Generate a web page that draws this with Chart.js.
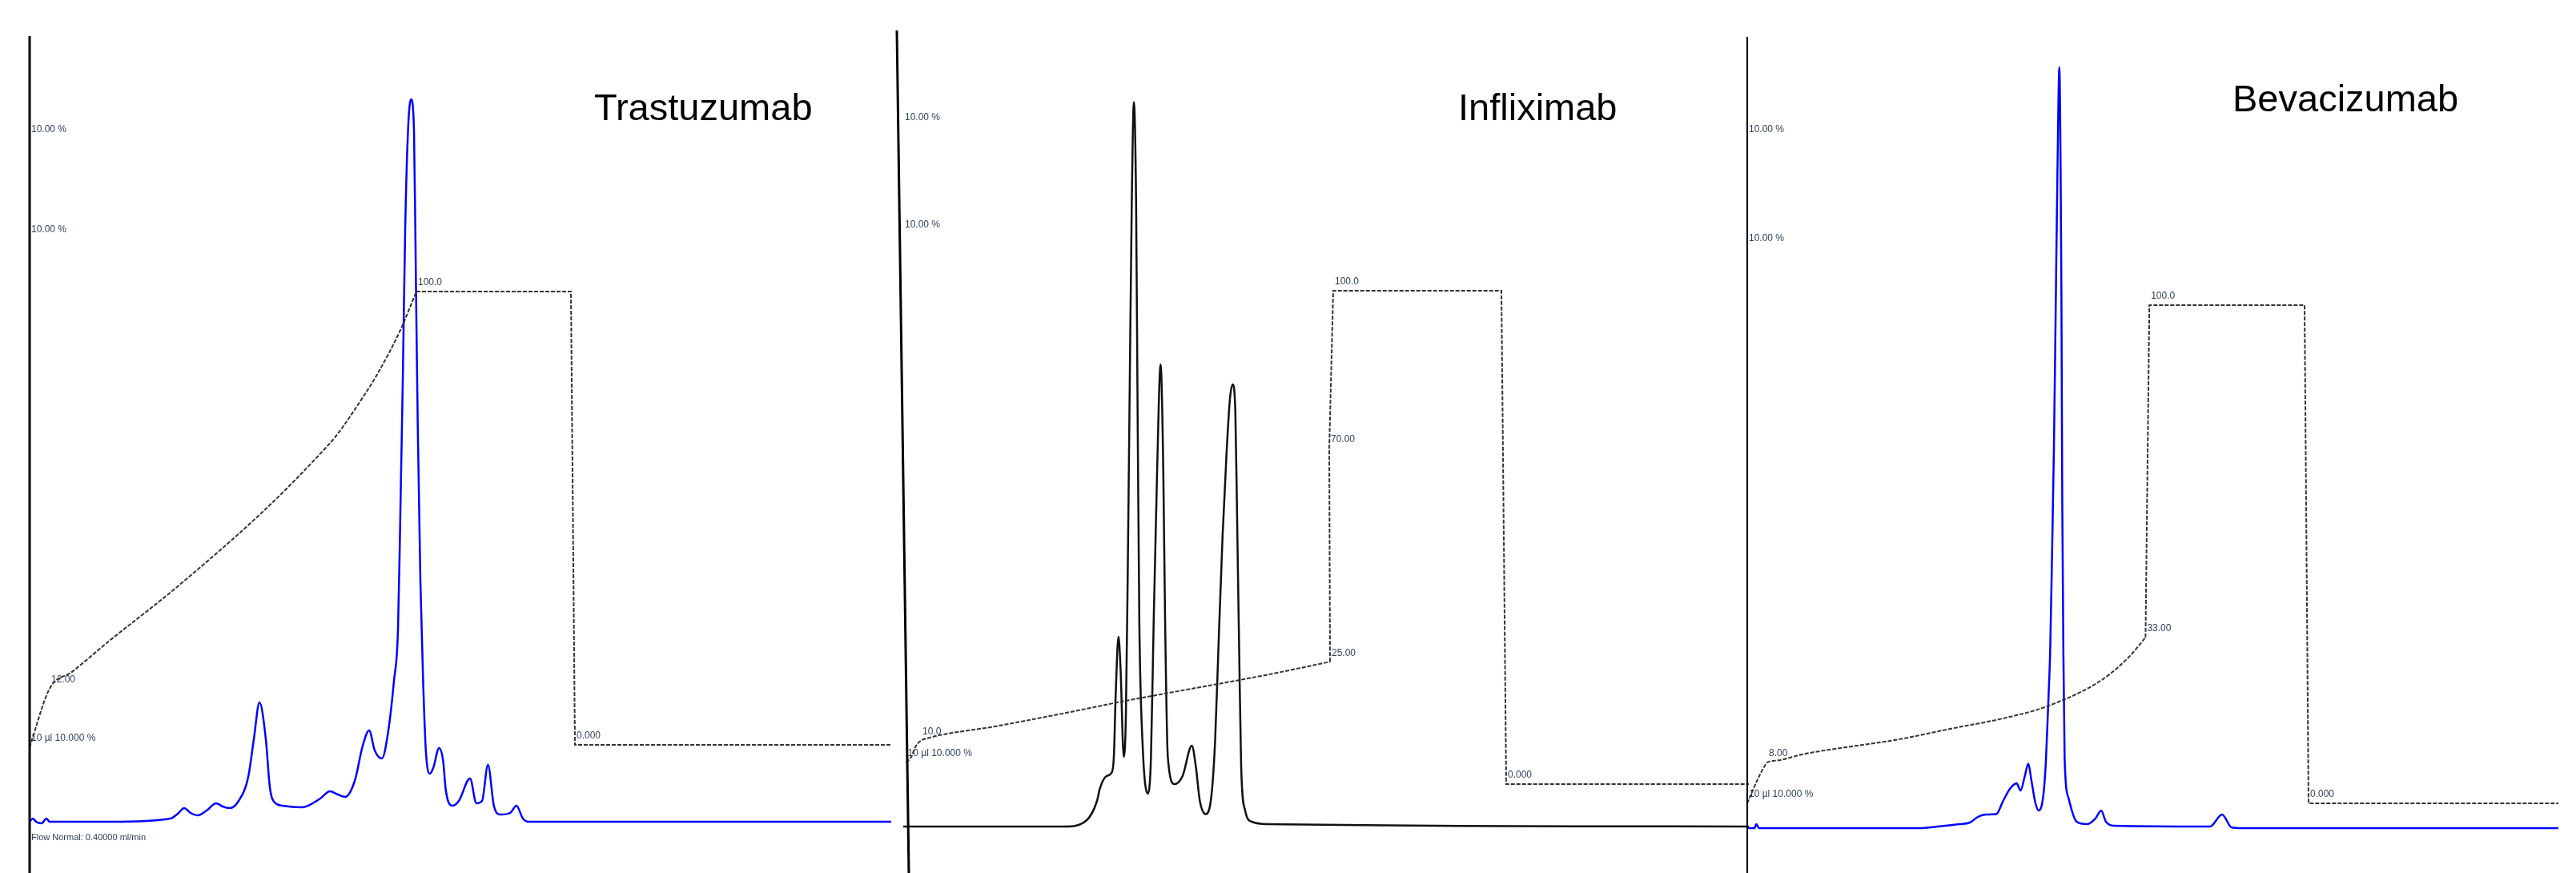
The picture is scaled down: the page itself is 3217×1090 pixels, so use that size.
<!DOCTYPE html>
<html>
<head>
<meta charset="utf-8">
<script src="https://cdn.jsdelivr.net/npm/chart.js@4.4.1/dist/chart.umd.min.js"></script>
<style>
html,body{margin:0;padding:0;background:#fff;width:3217px;height:1090px;overflow:hidden}
canvas{position:absolute;left:0;top:0}
</style>
</head>
<body>
<canvas id="c1" width="3217" height="1090"></canvas>
<canvas id="c2" width="3217" height="1090"></canvas>
<canvas id="c3" width="3217" height="1090"></canvas>
<script>
// ---------- Trastuzumab ----------
const trastuzumabTime = [0,0.2,0.4,0.75,1.05,1.25,5.15,8.8,9.25,9.65,10.05,10.5,11.05,11.65,12.05,12.5,13.05,13.65,14.0,14.35,14.75,15.0,15.3,15.8,17.0,18.15,18.75,19.25,19.7,20.3,20.8,21.2,21.55,22.0,22.4,22.75,23.0,23.13,23.3,23.45,23.63,23.82,24.0,24.12,24.24,24.4,24.57,24.74,24.99,25.2,25.57,25.82,25.99,26.4,26.8,27.5,27.9,28.25,28.62,28.99,29.4,30.0,30.4,30.8,31.15,53.8];
const trastuzumabSignal = [0,0.4,0,-0.2,0.4,0,0,0.4,1.0,1.7,1.1,0.8,1.4,2.3,1.9,1.7,2.6,5.6,10.3,14.9,10.3,4.3,2.4,2.0,1.8,2.9,3.8,3.4,3.1,5.1,9.5,11.4,8.9,7.9,11.4,17.6,23.9,36.4,55.1,73.9,86.4,90.2,86.4,67.6,48.9,30.1,17.6,8.9,6.0,6.7,9.2,7.6,3.9,2.0,2.6,5.4,2.3,2.6,7.1,2.0,0.9,1.1,2.0,0.4,0,0];
const trastuzumabGradTime = [0,1.25,2.65,5.0,8.95,14.7,18.3,19.15,20.85,21.65,23.15,24.15,33.8,34.05,53.8];
const trastuzumabGradB = [-0.5,12.4,16.1,23.0,34.1,51.9,64.8,68.2,76.9,81.4,91.5,100,100,0,0];
const trastuzumabGradLabels = ['10 µl 10.000 %','12.00','','','','','','','','','','100.0','','0.000',''];
const trastuzumabRampEnd = 11;

// ---------- Infliximab ----------
const infliximabTime = [0,10.1,11.43,12.1,12.27,12.69,13.02,13.15,13.27,13.44,13.57,13.77,13.9,14.02,14.15,14.27,14.4,14.54,14.64,14.74,14.94,15.27,15.47,15.64,15.85,16.07,16.24,16.35,16.52,16.94,17.44,18.02,18.27,18.52,18.89,19.24,19.47,19.69,19.94,20.19,20.4,20.57,20.74,20.85,20.97,21.1,21.35,21.77,22.77,52.8];
const infliximabSignal = [0,0,0.75,3.2,4.7,6.3,6.75,8.7,16.7,23.7,19.7,8.7,13.6,32.0,56.5,77.9,90.45,77.9,50.3,25.85,10.55,4.1,8.7,25.85,44.2,57.7,44.2,25.85,8.7,5.3,6.3,10.1,7.5,3.2,1.55,3.8,10.55,22.8,36.3,46.7,53.4,55.2,51.6,38.1,22.8,7.5,2.0,0.6,0.3,0];
const infliximabGradTime = [0.18,0.5,0.75,1.1,1.5,5.75,10.1,13.45,23.1,26.65,26.6,26.85,37.35,37.65,52.8];
const infliximabGradB = [4.4,5.5,7.5,8.8,9.3,11.7,14.4,16.6,22.4,24.8,68.0,100,100,0,0];
const infliximabGradLabels = ['10 µl 10.000 %','','','10.0','','','','','','25.00','70.00','100.0','','0.000',''];
const infliximabRampEnd = 9;

// ---------- Bevacizumab ----------
const bevacizumabTime = [0,0.45,0.57,0.73,10.73,11.9,13.23,13.9,14.4,14.9,15.55,15.98,16.4,16.82,17.07,17.32,17.55,17.75,17.99,18.2,18.49,18.65,18.82,18.92,19.04,19.15,19.27,19.37,19.49,19.57,19.62,19.67,19.74,19.82,20.07,20.57,21.24,21.74,22.1,22.4,22.9,28.9,29.65,30.24,30.9,50.65];
const bevacizumabSignal = [0,0,0.5,0,0,0.2,0.5,0.7,1.4,1.7,1.75,3.4,4.9,5.6,4.7,6.4,8.05,5.9,3.2,2.2,4.1,8.4,16.7,22.4,34.9,47.4,66.2,81.8,95.0,81.8,66.2,41.2,22.4,8.7,3.7,0.8,0.5,1.2,2.2,0.8,0.3,0.2,1.7,0.1,0,0];
const bevacizumabGradTime = [0,0.65,1.07,1.25,1.9,3.55,6.05,9.4,12.75,16.05,18.75,22.2,23.9,24.87,25.11,34.8,35.05,50.65];
const bevacizumabGradB = [0,4.8,7.4,8.2,8.6,9.9,11.2,12.8,15.0,17.1,19.5,24.9,29.6,33.3,100,100,0,0];
const bevacizumabGradLabels = ['10 µl 10.000 %','','','8.00','','','','','','','','','','33.00','100.0','','0.000',''];
const bevacizumabRampEnd = 13;

// scale notes (signal axis) shown at the top-left of each panel
const scaleNoteText = ['10.00 %','10.00 %'];
const trastuzumabScaleNotes = [85.8, 73.3];
const infliximabScaleNotes = [87.9, 74.5];
const bevacizumabScaleNotes = [86.6, 73.0];
const flowNote = 'Flow Normal: 0.40000 ml/min';

const SANS = '"Liberation Sans", Arial, Helvetica, sans-serif';

function toXY(xs, ys){ return xs.map((x,i)=>({x:x, y:ys[i]})); }

function makePanel(id, p){
  const overlay = {
    id: 'overlay_' + id,
    afterDatasetsDraw(chart){
      const ctx = chart.ctx, a = chart.chartArea;
      const xs = chart.scales.x, ys = chart.scales.y, yb = chart.scales.y1;
      ctx.save();
      // left axis line
      ctx.strokeStyle = '#000';
      ctx.lineWidth = p.axisWidth;
      ctx.beginPath();
      ctx.moveTo(a.left + p.axisSkewTop, a.top);
      ctx.lineTo(a.left + p.axisSkewBottom, a.bottom);
      ctx.stroke();
      // gradient vertex labels
      ctx.fillStyle = '#2d3f5a';
      ctx.font = '12px ' + SANS;
      ctx.textAlign = 'left';
      ctx.textBaseline = 'bottom';
      p.gradLabels.forEach((t,i)=>{
        if(!t) return;
        ctx.fillText(t, xs.getPixelForValue(p.gradTime[i]) + 2, yb.getPixelForValue(p.gradB[i]) - 5);
      });
      // scale notes
      p.scaleNotes.forEach((v,i)=>{
        ctx.fillText(scaleNoteText[i], a.left + 2, ys.getPixelForValue(v));
      });
      if(p.flow){
        ctx.font = '11px ' + SANS;
        ctx.fillText(p.flow, a.left + 2, ys.getPixelForValue(-2.5));
      }
      // title
      ctx.fillStyle = '#000';
      ctx.font = '47px ' + SANS;
      ctx.textBaseline = 'alphabetic';
      ctx.fillText(p.title, a.left + p.titleDx, p.titleY);
      ctx.restore();
    }
  };
  const grad = toXY(p.gradTime, p.gradB);
  const gradStyle = {
    yAxisID: 'y1', borderColor: '#333', borderWidth: 2, borderDash: [5, 2],
    pointRadius: 0, clip: false
  };
  return new Chart(document.getElementById(id), {
    type: 'line',
    data: {
      datasets: [
        Object.assign({ data: grad.slice(0, p.rampEnd + 1), cubicInterpolationMode: 'monotone' }, gradStyle),
        Object.assign({ data: grad.slice(p.rampEnd), tension: 0 }, gradStyle),
        {
          data: toXY(p.time, p.signal),
          yAxisID: 'y',
          borderColor: p.color,
          borderWidth: 2.5,
          pointRadius: 0,
          cubicInterpolationMode: 'monotone',
          clip: false
        }
      ]
    },
    options: {
      responsive: false,
      animation: false,
      devicePixelRatio: 1,
      layout: { padding: p.padding },
      plugins: { legend: { display: false }, tooltip: { enabled: false }, title: { display: false } },
      scales: {
        x: { type: 'linear', display: false, min: 0, max: p.xMax },
        y: { type: 'linear', display: false, min: p.yMin, max: p.yMax },
        y1: { type: 'linear', display: false, min: p.bMin, max: p.bMax }
      }
    },
    plugins: [overlay]
  });
}

makePanel('c1', {
  time: trastuzumabTime, signal: trastuzumabSignal,
  gradTime: trastuzumabGradTime, gradB: trastuzumabGradB, gradLabels: trastuzumabGradLabels,
  rampEnd: trastuzumabRampEnd,
  scaleNotes: trastuzumabScaleNotes, flow: flowNote,
  title: 'Trastuzumab', titleDx: 705, titleY: 150,
  color: '#0000ff',
  padding: { left: 37, right: 2104, top: 45, bottom: 0 },
  xMax: 53.8, yMin: -6.4, yMax: 98.1, bMin: -28.27, bMax: 156.36,
  axisWidth: 3, axisSkewTop: 0, axisSkewBottom: 0
});

makePanel('c2', {
  time: infliximabTime, signal: infliximabSignal,
  gradTime: infliximabGradTime, gradB: infliximabGradB, gradLabels: infliximabGradLabels,
  rampEnd: infliximabRampEnd,
  scaleNotes: infliximabScaleNotes, flow: null,
  title: 'Infliximab', titleDx: 693, titleY: 150,
  color: '#111111',
  padding: { left: 1128, right: 1033, top: 38, bottom: 0 },
  xMax: 52.8, yMin: -5.8, yMax: 99.4, bMin: -18.02, bMax: 152.76,
  axisWidth: 3, axisSkewTop: -8, axisSkewBottom: 7
});

makePanel('c3', {
  time: bevacizumabTime, signal: bevacizumabSignal,
  gradTime: bevacizumabGradTime, gradB: bevacizumabGradB, gradLabels: bevacizumabGradLabels,
  rampEnd: bevacizumabRampEnd,
  scaleNotes: bevacizumabScaleNotes, flow: null,
  title: 'Bevacizumab', titleDx: 606, titleY: 139,
  color: '#0000ff',
  padding: { left: 2182, right: 22, top: 46, bottom: 0 },
  xMax: 50.65, yMin: -5.6, yMax: 98.8, bMin: -13.99, bMax: 153.86,
  axisWidth: 2, axisSkewTop: 0, axisSkewBottom: 0
});
</script>
</body>
</html>
